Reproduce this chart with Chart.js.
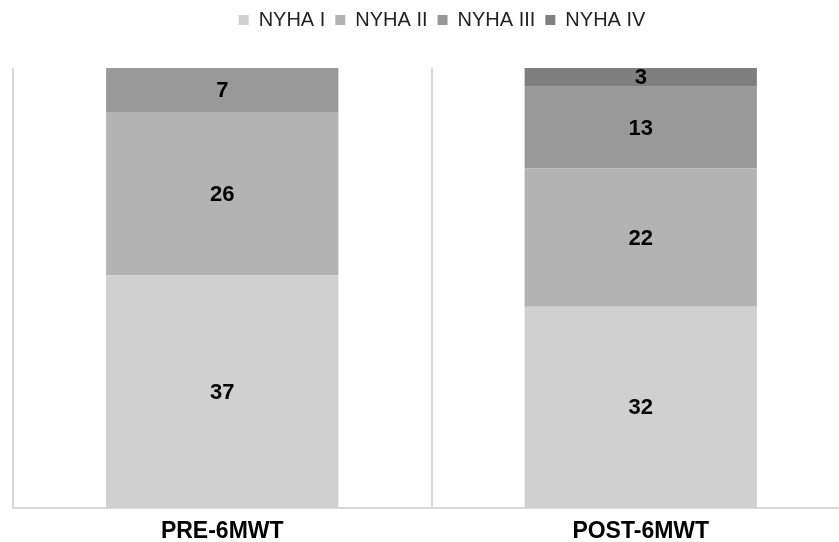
<!DOCTYPE html>
<html>
<head>
<meta charset="utf-8">
<script src="https://cdn.jsdelivr.net/npm/chart.js@4"></script>
<style>
  html, body { margin: 0; padding: 0; background: #fff; }
  #wrap { width: 839px; height: 542px; overflow: hidden; }
</style>
</head>
<body>
<div id="wrap"><canvas id="myChart" width="884" height="542"></canvas></div>
<script>
const categories = ['PRE-6MWT', 'POST-6MWT'];
const seriesNames = ['NYHA I', 'NYHA II', 'NYHA III', 'NYHA IV'];
const nyha1 = [37, 32];
const nyha2 = [26, 22];
const nyha3 = [7, 13];
const nyha4 = [0, 3];
const colours = ['#d0d0d0', '#b3b3b3', '#999999', '#7f7f7f'];

const FONT = '"Liberation Sans", Arial, sans-serif';

// small plugin to write the value in the middle of each bar segment
const barValues = {
  id: 'barValues',
  afterDatasetsDraw(chart) {
    const ctx = chart.ctx;
    ctx.save();
    ctx.font = 'bold 22px ' + FONT;
    ctx.fillStyle = '#000';
    ctx.textAlign = 'center';
    ctx.textBaseline = 'middle';
    chart.data.datasets.forEach((ds, i) => {
      chart.getDatasetMeta(i).data.forEach((bar, j) => {
        const v = ds.data[j];
        if (!v) return; // no label for empty segments
        ctx.fillText(String(v), bar.x, (bar.y + bar.base) / 2 + 1);
      });
    });
    ctx.restore();
  }
};

const allSeries = [nyha1, nyha2, nyha3, nyha4];

new Chart(document.getElementById('myChart'), {
  type: 'bar',
  data: {
    labels: categories,
    datasets: allSeries.map((d, i) => ({
      label: seriesNames[i],
      data: d,
      backgroundColor: colours[i],
      borderWidth: 0,
      categoryPercentage: 1,
      barPercentage: 0.555
    }))
  },
  options: {
    responsive: false,
    animation: false,
    devicePixelRatio: 1,
    layout: { padding: 0 },
    plugins: {
      legend: {
        position: 'top',
        labels: {
          boxWidth: 10,
          boxHeight: 10,
          padding: 10,
          color: '#222',
          font: { family: FONT, size: 20 }
        }
      },
      // empty title used as a spacer between legend and bars
      title: {
        display: true,
        text: '',
        position: 'top',
        weight: 500,
        padding: { top: 0, bottom: 4 },
        font: { family: FONT, size: 20 }
      },
      tooltip: { enabled: false }
    },
    scales: {
      x: {
        stacked: true,
        grid: { display: true, color: '#d9d9d9', lineWidth: 2, drawTicks: false },
        border: { display: true, color: '#d9d9d9', width: 2 },
        ticks: {
          padding: 10,
          color: '#000',
          font: { family: FONT, size: 23, weight: 'bold' }
        },
        afterFit: s => { s.height = 34; }
      },
      y: {
        stacked: true,
        min: 0,
        max: 70,
        ticks: { display: false },
        grid: { display: false },
        border: { display: false },
        afterFit: s => { s.width = 13; }
      },
      yRight: {
        position: 'right',
        display: true,
        ticks: { display: false },
        grid: { display: false },
        border: { display: false },
        afterFit: s => { s.width = 34; }
      }
    }
  },
  plugins: [barValues]
});
</script>
</body>
</html>
